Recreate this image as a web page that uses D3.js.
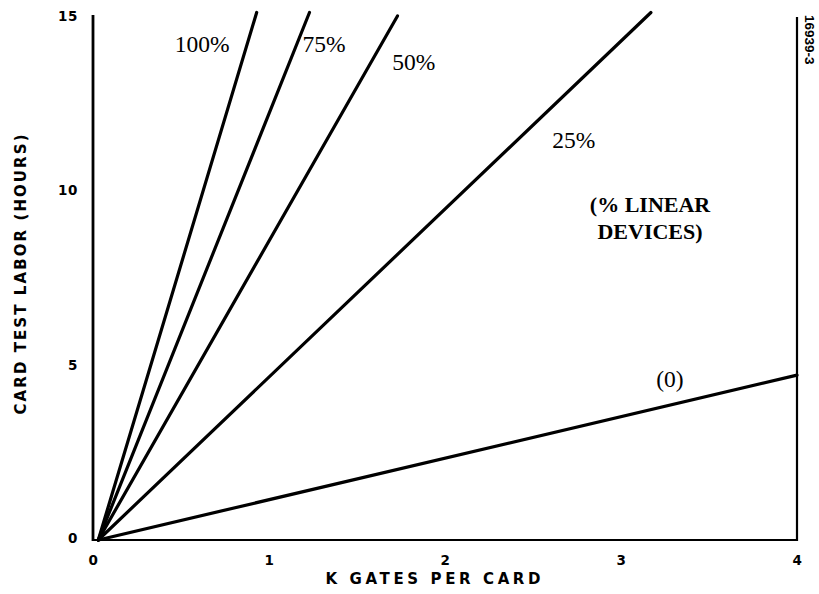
<!DOCTYPE html>
<html>
<head>
<meta charset="utf-8">
<script src="https://cdn.jsdelivr.net/npm/d3@7"></script>
<style>
  html, body { margin: 0; padding: 0; background: #fff; }
  svg { display: block; }
</style>
</head>
<body>
<svg id="chart" width="819" height="594"></svg>
<script>
// Card test labor vs. card complexity, one line per share of linear devices
const seriesNames = ["100%", "75%", "50%", "25%", "(0)"];
// each line runs from the origin to the point where it leaves the plot
const startGates = [0.03, 0.03, 0.03, 0.03, 0.03];
const startHours = [0, 0, 0, 0, 0];
const endGates = [0.93, 1.23, 1.73, 3.17, 4.0];
const endHours = [15.1, 15.1, 15.0, 15.1, 4.72];

const xTicks = [0, 1, 2, 3, 4];
const yTicks = [0, 5, 10, 15];

const svg = d3.select("#chart");
const x = d3.scaleLinear().domain([0, 4]).range([93, 797]);
const y = d3.scaleLinear().domain([0, 15]).range([540, 16]);

const gothic = "'DejaVu Sans', 'Liberation Sans', sans-serif";
const narrowBold = "'Liberation Sans', Arial, sans-serif";
const serif = "'Liberation Serif', 'Times New Roman', serif";

// axes (labels only, no tick marks)
const xAxis = d3.axisBottom(x).tickValues(xTicks).tickSize(0).tickPadding(15).tickFormat(d3.format("d"));
const yAxis = d3.axisLeft(y).tickValues(yTicks).tickSize(0).tickPadding(15).tickFormat(d3.format("d"));

const gx = svg.append("g").attr("transform", `translate(0,${y(0)})`).call(xAxis);
const gy = svg.append("g").attr("transform", `translate(${x(0)},0)`).call(yAxis);
[gx, gy].forEach(g => {
  g.select(".domain").remove();
  g.selectAll("text")
    .attr("font-family", gothic)
    .attr("font-weight", "bold")
    .attr("font-size", 13.5)
    .attr("letter-spacing", 0.6)
    .attr("fill", "#000");
});
gy.selectAll("text").attr("dy", "0.32em");
gy.selectAll(".tick").filter(d => d === 0).select("text").attr("dy", "0.15em");

// frame: left axis, bottom axis, right edge
svg.append("line")
  .attr("x1", x(0)).attr("x2", x(0)).attr("y1", y(15) - 1).attr("y2", y(0) + 1)
  .attr("stroke", "#000").attr("stroke-width", 2.8);
svg.append("line")
  .attr("x1", x(0)).attr("x2", x(4)).attr("y1", y(0)).attr("y2", y(0))
  .attr("stroke", "#000").attr("stroke-width", 2.2);
svg.append("line")
  .attr("x1", x(4)).attr("x2", x(4)).attr("y1", y(15) + 1).attr("y2", y(0) + 1)
  .attr("stroke", "#000").attr("stroke-width", 2.2);

// the five labor lines
const lines = seriesNames.map((name, i) => ({
  name,
  pts: [[startGates[i], startHours[i]], [endGates[i], endHours[i]]]
}));
const lineGen = d3.line().x(d => x(d[0])).y(d => y(d[1]));
svg.append("g").selectAll("path").data(lines).join("path")
  .attr("d", d => lineGen(d.pts))
  .attr("fill", "none")
  .attr("stroke", "#000")
  .attr("stroke-width", 3.2)
  .attr("stroke-linecap", "round");

// line labels
const labelPos = [
  { t: "100%", gx: 0.465, gh: 13.97 },
  { t: "75%",  gx: 1.19,  gh: 13.97 },
  { t: "50%",  gx: 1.70,  gh: 13.45 },
  { t: "25%",  gx: 2.61,  gh: 11.22 },
  { t: "(0)",  gx: 3.20,  gh: 4.37 }
];
svg.append("g").selectAll("text").data(labelPos).join("text")
  .attr("x", d => x(d.gx))
  .attr("y", d => y(d.gh))
  .attr("font-family", serif)
  .attr("font-size", 23.5)
  .attr("fill", "#000")
  .text(d => d.t);

// series key
const key = svg.append("text")
  .attr("font-family", serif)
  .attr("font-weight", "bold")
  .attr("font-size", 22)
  .attr("fill", "#000")
  .attr("text-anchor", "middle");
key.append("tspan").attr("x", x(3.165)).attr("y", y(9.38)).text("(% LINEAR");
key.append("tspan").attr("x", x(3.165)).attr("y", y(8.63)).text("DEVICES)");

// axis titles
svg.append("text")
  .attr("transform", `translate(26,${y(7.6)}) rotate(-90)`)
  .attr("text-anchor", "middle")
  .attr("font-family", gothic)
  .attr("font-weight", "bold")
  .attr("font-size", 15)
  .attr("textLength", 280)
  .attr("lengthAdjust", "spacing")
  .attr("fill", "#000")
  .text("CARD TEST LABOR (HOURS)");

svg.append("text")
  .attr("x", 433)
  .attr("y", 584)
  .attr("text-anchor", "middle")
  .attr("font-family", gothic)
  .attr("font-weight", "bold")
  .attr("font-size", 15)
  .attr("textLength", 215)
  .attr("lengthAdjust", "spacing")
  .attr("fill", "#000")
  .text("K GATES PER CARD");

// figure number along the right edge
svg.append("text")
  .attr("transform", "translate(805,15) rotate(90)")
  .attr("font-family", narrowBold)
  .attr("font-weight", "bold")
  .attr("font-size", 13.5)
  .attr("fill", "#000")
  .text("16939-3");
</script>
</body>
</html>
